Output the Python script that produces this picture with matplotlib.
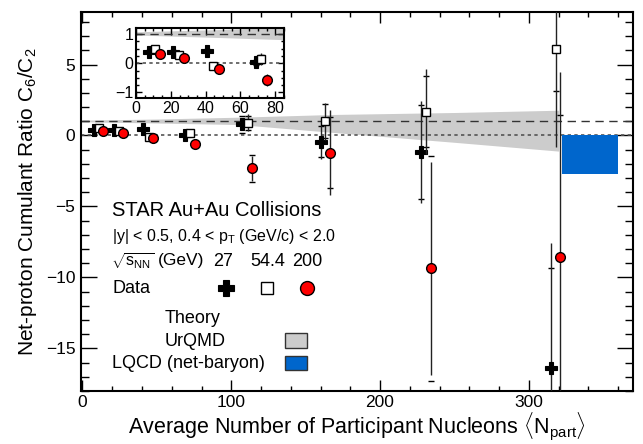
import matplotlib
matplotlib.use('Agg')
import matplotlib.pyplot as plt
from matplotlib.patches import Rectangle
from matplotlib.ticker import MultipleLocator
import numpy as np

plt.rcParams['font.family'] = ['Liberation Sans', 'DejaVu Sans']
plt.rcParams['mathtext.fontset'] = 'custom'
plt.rcParams['mathtext.rm'] = 'Liberation Sans'
plt.rcParams['mathtext.it'] = 'Liberation Sans:italic'
plt.rcParams['mathtext.bf'] = 'Liberation Sans:bold'

# --- data ---
npart_27 = [7.5, 21.5, 41.0, 69.0, 107.5, 160.0, 227.5, 315.0]
c6c2_27 = [0.40, 0.40, 0.43, 0.03, 0.80, -0.45, -1.15, -16.35]
stat_27 = [0.05, 0.05, 0.06, 0.12, 0.35, 1.2, 3.6, 8.8]
sys_27 = [0.04, 0.04, 0.05, 0.10, 0.6, 1.1, 3.3, 7.0]

npart_54 = [11.0, 24.5, 44.5, 72.0, 111.0, 163.0, 231.0, 318.5]
c6c2_54 = [0.50, 0.30, -0.08, 0.15, 0.90, 1.00, 1.67, 6.10]
stat_54 = [0.08, 0.06, 0.10, 0.20, 0.6, 1.3, 3.0, 6.9]
sys_54 = [0.06, 0.05, 0.08, 0.15, 0.5, 1.2, 2.5, 3.0]

npart_200 = [14.0, 27.5, 47.5, 75.5, 114.0, 166.5, 234.0, 321.0]
c6c2_200 = [0.33, 0.18, -0.20, -0.57, -2.32, -1.22, -9.37, -8.55]
stat_200 = [0.05, 0.05, 0.08, 0.20, 0.9, 3.0, 7.5, 13.0]
sys_200 = [0.04, 0.04, 0.06, 0.15, 0.93, 2.5, 7.9, 10.0]

urqmd_npart = [0, 50, 105, 168, 250, 320]
urqmd_hi = [1.08, 1.16, 1.29, 1.48, 1.62, 1.78]
urqmd_lo = [0.97, 0.88, 0.77, 0.22, -0.48, -1.10]

lqcd_npart = [322.5, 360.0]
lqcd_lo = -2.7
lqcd_hi = 0.0

W, H = 643, 444
fig = plt.figure(figsize=(W / 100, H / 100), dpi=100)


def fx(px):
    return px / W


def fy(py):
    return 1 - py / H


def style_axes(ax, xmaj, xmin, ymaj, ymin, xl, yl, fs):
    ax.xaxis.set_major_locator(MultipleLocator(xmaj))
    ax.xaxis.set_minor_locator(MultipleLocator(xmin))
    ax.yaxis.set_major_locator(MultipleLocator(ymaj))
    ax.yaxis.set_minor_locator(MultipleLocator(ymin))
    ax.tick_params(axis='both', which='both', direction='in', top=True, right=True,
                   labelsize=fs, width=1)
    ax.tick_params(axis='x', which='major', length=xl[0], pad=3)
    ax.tick_params(axis='x', which='minor', length=xl[1])
    ax.tick_params(axis='y', which='major', length=yl[0], pad=4)
    ax.tick_params(axis='y', which='minor', length=yl[1])
    for s in ax.spines.values():
        s.set_linewidth(1.5)


def draw_data(ax, ms_scale=1.0):
    ax.fill_between(urqmd_npart, urqmd_lo, urqmd_hi, color='#cccccc', lw=0, zorder=1)
    ax.axhline(1, color='#333333', lw=1, ls=(0, (6, 4)), zorder=2)
    ax.axhline(0, color='#555555', lw=1.2, ls=(0, (2, 2)), zorder=2)
    sets = [
        (npart_27, c6c2_27, stat_27, sys_27, dict(marker='P', color='black', ms=8 * ms_scale,
                                                 mec='black', mew=0.8)),
        (npart_54, c6c2_54, stat_54, sys_54, dict(marker='s', color='black', ms=6 * ms_scale,
                                                 mfc='white', mec='black', mew=1)),
        (npart_200, c6c2_200, stat_200, sys_200, dict(marker='o', color='black', ms=7 * ms_scale,
                                                     mfc='red', mec='black', mew=1)),
    ]
    for k, (x, y, st, sy, kw) in enumerate(sets):
        z = 4 + k
        ax.errorbar(x, y, yerr=sy, fmt='none', ecolor='black', elinewidth=0,
                    capsize=2.5, capthick=1, zorder=z)
        ax.errorbar(x, y, yerr=st, fmt='none', ecolor='#222222', elinewidth=1, zorder=z)
        ax.plot(x, y, ls='none', zorder=z + 0.5, **kw)


ax = fig.add_axes([fx(81), fy(391), fx(633) - fx(81), fy(12) - fy(391)])
draw_data(ax)
ax.add_patch(Rectangle((lqcd_npart[0], lqcd_lo), lqcd_npart[1] - lqcd_npart[0],
                       lqcd_hi - lqcd_lo, facecolor='#0066cc', edgecolor='none', zorder=3))
ax.set_xlim(-1, 370)
ax.set_ylim(-18, 8.7)
style_axes(ax, 100, 20, 5, 1, (8, 3.6), (11.5, 5.8), 12.5)
ax.set_xlabel(r'Average Number of Participant Nucleons $\langle$N$_{\rm part}\rangle$',
              fontsize=15.5, labelpad=0)
ax.set_ylabel(r'Net-proton Cumulant Ratio C$_6$/C$_2$', fontsize=15, labelpad=5)

# inset
ins = fig.add_axes([fx(136), fy(98.3), fx(284) - fx(136), fy(28.3) - fy(98.3)])
draw_data(ins, ms_scale=1.0)
ins.set_xlim(0, 85)
ins.set_ylim(-1.2, 1.2)
style_axes(ins, 20, 5, 1, 0.25, (5, 2.5), (4, 2), 11.5)
ins.tick_params(axis='both', which='major', pad=2)

# legend block
fig.text(fx(112), fy(211), 'STAR Au+Au Collisions', fontsize=14.5, va='center', ha='left')
fig.text(fx(112), fy(236), r'|y| < 0.5, 0.4 < p$_{\rm T}$ (GeV/c) < 2.0', fontsize=11.5,
         va='center', ha='left')
fig.text(fx(111), fy(261), r'$\sqrt{\mathrm{s}_{\rm NN}}$', fontsize=11.5, va='center', ha='left')
fig.text(fx(158), fy(261), '(GeV)', fontsize=12.5, va='center', ha='left')
for lab, px in zip(['27', '54.4', '200'], [223, 268, 307]):
    fig.text(fx(px), fy(261), lab, fontsize=13, va='center', ha='center')
fig.text(fx(112), fy(288), 'Data', fontsize=13, va='center', ha='left')
ax.plot([fx(226)], [fy(288)], marker='P', color='black', ms=11.5, mew=0.8,
        transform=fig.transFigure, clip_on=False, zorder=10)
ax.plot([fx(267)], [fy(288)], marker='s', mfc='white', mec='black', ms=8, mew=1,
        transform=fig.transFigure, clip_on=False, zorder=10)
ax.plot([fx(307)], [fy(288)], marker='o', mfc='red', mec='black', ms=10, mew=1,
        transform=fig.transFigure, clip_on=False, zorder=10)
fig.text(fx(165), fy(318), 'Theory', fontsize=13, va='center', ha='left')
fig.text(fx(165), fy(341), 'UrQMD', fontsize=13, va='center', ha='left')
fig.text(fx(112), fy(363), 'LQCD (net-baryon)', fontsize=13, va='center', ha='left')
fig.add_artist(Rectangle((fx(285), fy(348)), fx(307) - fx(285), fy(333) - fy(348),
                         transform=fig.transFigure, facecolor='#cccccc', edgecolor='#333333', lw=1))
fig.add_artist(Rectangle((fx(285), fy(370)), fx(307) - fx(285), fy(356) - fy(370),
                         transform=fig.transFigure, facecolor='#0066cc', edgecolor='#333333', lw=1))

fig.savefig('out.png', dpi=100)
plt.close(fig)
